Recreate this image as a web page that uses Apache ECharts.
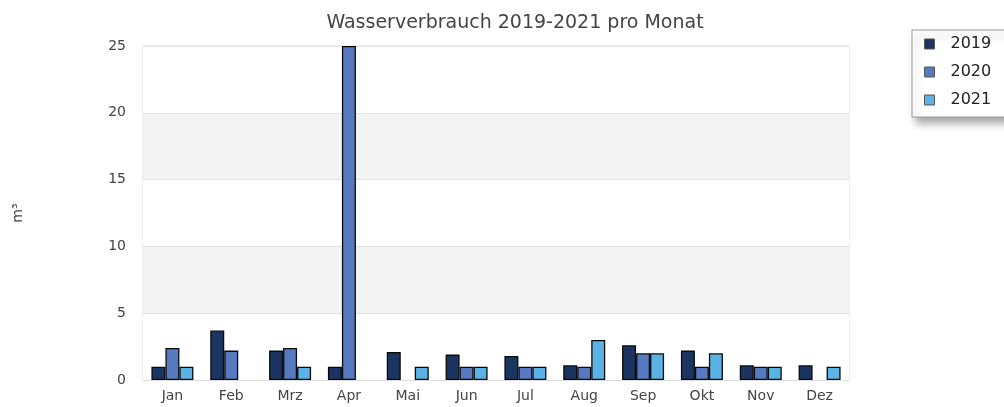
<!DOCTYPE html>
<html>
<head>
<meta charset="utf-8">
<title>Wasserverbrauch 2019-2021 pro Monat</title>
<script src="https://cdn.jsdelivr.net/npm/echarts@6/dist/echarts.min.js"></script>
<style>
  html, body { margin: 0; padding: 0; background: #fff; }
  #chart { width: 1004px; height: 407px; }
</style>
</head>
<body>
<div id="chart"></div>
<script>
// Monate
const months = ['Jan', 'Feb', 'Mrz', 'Apr', 'Mai', 'Jun', 'Jul', 'Aug', 'Sep', 'Okt', 'Nov', 'Dez'];
const years = ['2019', '2020', '2021'];
// Verbrauch in m³, null = kein Wert
const v2019 = [1, 3.7, 2.2, 1, 2.1, 1.9, 1.8, 1.1, 2.6, 2.2, 1.1, 1.1];
const v2020 = [2.4, 2.2, 2.4, 25, null, 1, 1, 1, 2, 1, 1, null];
const v2021 = [1, null, 1, null, 1, 1, 1, 3, 2, 2, 1, 1];
const yTicks = [0, 5, 10, 15, 20, 25];
const colors = ['#1b3462', '#5679c0', '#5bb2e4'];

const font = 'DejaVu Sans';

const chart = echarts.init(document.getElementById('chart'));

const mkSeries = (name, data, i) => ({
  name: name,
  type: 'bar',
  data: data,
  barWidth: 14,
  barGap: '0%',
  itemStyle: { color: colors[i], borderColor: '#0a0a0a', borderWidth: 1.3 }
});

const option = {
  animation: false,
  title: {
    text: 'Wasserverbrauch 2019-2021 pro Monat',
    left: 510,
    textAlign: 'center',
    top: 9,
    textStyle: { fontFamily: font, fontSize: 19, fontWeight: 'normal', color: '#444' }
  },
  legend: {
    orient: 'vertical',
    left: 912,
    top: 30,
    data: years,
    icon: 'rect',
    itemWidth: 10,
    itemHeight: 10,
    itemGap: 12,
    padding: [6, 20, 9, 12],
    backgroundColor: '#fff',
    borderColor: '#999',
    borderWidth: 1,
    shadowColor: 'rgba(0,0,0,0.35)',
    shadowBlur: 8,
    shadowOffsetX: 4,
    shadowOffsetY: 6,
    itemStyle: { borderColor: '#555', borderWidth: 1 },
    textStyle: { fontFamily: font, fontSize: 16, lineHeight: 16, color: '#222', padding: [0, 0, 0, 11] }
  },
  grid: {
    left: 143,
    right: 155,
    top: 46,
    bottom: 27,
    show: true,
    borderColor: '#ddd',
    borderWidth: 1
  },
  xAxis: {
    type: 'category',
    data: months,
    axisLine: { show: true, lineStyle: { color: '#ddd' } },
    axisTick: { show: false },
    axisLabel: { fontFamily: font, fontSize: 14, color: '#444', margin: 9 }
  },
  yAxis: {
    type: 'value',
    min: yTicks[0],
    max: yTicks[yTicks.length - 1],
    interval: 5,
    name: 'm³',
    nameLocation: 'middle',
    nameGap: 118,
    nameRotate: 90,
    nameTextStyle: { fontFamily: font, fontSize: 14, color: '#444' },
    axisLine: { show: false },
    axisTick: { show: false },
    axisLabel: { fontFamily: font, fontSize: 14, color: '#444', margin: 17 },
    splitLine: { lineStyle: { color: '#e2e2e2' } },
    splitArea: { show: true, areaStyle: { color: ['#ffffff', '#f3f3f3'] } }
  },
  series: [
    mkSeries(years[0], v2019, 0),
    mkSeries(years[1], v2020, 1),
    mkSeries(years[2], v2021, 2)
  ]
};

chart.setOption(option);
</script>
</body>
</html>
